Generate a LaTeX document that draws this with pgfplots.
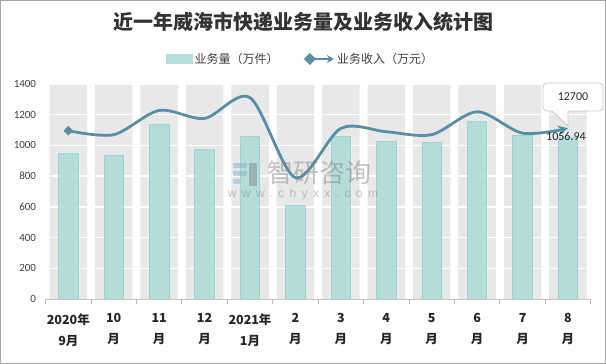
\documentclass[border=0pt]{standalone}
\usepackage{pgfplots}
\pgfplotsset{compat=1.18}
\usepackage{fontspec}
\setmainfont{Noto Sans CJK SC}
\newfontfamily\numfont{Carlito}
\newfontfamily\wmfont[LetterSpace=45]{Liberation Sans}
\usetikzlibrary{arrows.meta}
\definecolor{barfill}{RGB}{176,221,217}
\definecolor{barline}{RGB}{160,213,207}
\definecolor{band}{RGB}{232,232,232}
\definecolor{linecol}{RGB}{88,143,166}
\definecolor{txt}{RGB}{64,64,64}
\definecolor{boxgray}{RGB}{200,200,200}
\definecolor{wmblue}{RGB}{130,170,200}
\begin{document}
\begin{tikzpicture}[x=1pt,y=1pt]
\useasboundingbox (0,0) rectangle (606,364);
\fill[white] (0,0) rectangle (606,364);
\node[font=\fontsize{20}{24}\selectfont\bfseries, text=black!80] at (303.5,342) {近一年威海市快递业务量及业务收入统计图};
\begin{axis}[
  at={(45.6pt,65pt)}, anchor=south west, scale only axis,
  width=545.1pt, height=215pt,
  xmin=-0.5, xmax=11.5, ymin=0, ymax=1400,
  ytick={0,200,...,1400},
  xtick={0,...,11},
  xticklabels={{2020年\\9月},{10\\月},{11\\月},{12\\月},{2021年\\1月},{2\\月},{3\\月},{4\\月},{5\\月},{6\\月},{7\\月},{8\\月}},
  extra x ticks={-0.5,0.5,...,11.5},
  extra x tick labels={},
  extra x tick style={xtick style={draw=gray!55, line width=0.8pt}, major tick length=5pt, tick align=outside},
  xtick style={draw=none}, ytick style={draw=none},
  axis x line*=bottom, axis y line*=left,
  y axis line style={draw=none},
  x axis line style={draw=gray!45, line width=0.8pt},
  /pgf/number format/assume math mode=true,
  /pgf/number format/1000 sep={},
  yticklabel style={font=\numfont\fontsize{11}{13}\selectfont, text=txt, xshift=-6pt},
  xticklabel style={align=center, font=\fontsize{12.5}{21}\selectfont\bfseries, text=black!85, anchor=north, yshift=-11pt},
  legend style={at={(0.4676,1.1163)}, anchor=center, draw=none, fill=none,
    font=\fontsize{12}{14}\selectfont, text=txt,
    /tikz/every even column/.append style={column sep=24pt}},
  legend columns=2,
]
\addplot[ybar, bar width=37.5pt, bar shift=0pt, fill=band, draw=none, forget plot]
  coordinates {(0,1400)(1,1400)(2,1400)(3,1400)(4,1400)(5,1400)(6,1400)(7,1400)(8,1400)(9,1400)(10,1400)(11,1400)};
\addplot[white, line width=1.3pt, forget plot] coordinates {(-0.5,200)(11.5,200)};
\addplot[white, line width=1.3pt, forget plot] coordinates {(-0.5,400)(11.5,400)};
\addplot[white, line width=1.3pt, forget plot] coordinates {(-0.5,600)(11.5,600)};
\addplot[white, line width=1.3pt, forget plot] coordinates {(-0.5,800)(11.5,800)};
\addplot[white, line width=1.3pt, forget plot] coordinates {(-0.5,1000)(11.5,1000)};
\addplot[white, line width=1.3pt, forget plot] coordinates {(-0.5,1200)(11.5,1200)};
\addplot[white, line width=1.3pt, forget plot] coordinates {(-0.5,1400)(11.5,1400)};
\addplot[ybar, bar width=19.5pt, bar shift=0pt, fill=barfill, draw=barline, line width=0.8pt, fill opacity=0.92,
  legend image code/.code={\fill[barfill] (0pt,-4.5pt) rectangle (26pt,4.5pt);}]
  coordinates {(0,948)(1,933)(2,1137)(3,976)(4,1057)(5,607)(6,1057)(7,1024)(8,1018)(9,1154)(10,1063)(11,1050)};
\addlegendentry{业务量（万件）}
\addplot[smooth, linecol, line width=2.8pt, mark=square*, mark indices={1}, mark size=3.2pt,
  mark options={rotate=45, solid, line width=0.3pt},
  arrows=-{Stealth[length=10pt,width=10pt]},
  legend image code/.code={\draw[linecol, line width=2.5pt, -{Stealth[length=7pt,width=8pt]}] (2pt,0pt) -- (28pt,0pt);
     \fill[linecol] (0pt,0pt) -- (4pt,4pt) -- (8pt,0pt) -- (4pt,-4pt) -- cycle;}]
  coordinates {(0,1096)(1,1070)(2,1228)(3,1176)(4,1311)(5,790)(6,1111)(7,1089)(8,1070)(9,1219)(10,1080)(11,1111)};
\addlegendentry{业务收入（万元）}
\node[font=\numfont\fontsize{12}{14}\selectfont, text=black!85] at (axis cs:11,1056.94) [xshift=-2pt] {1056.94};
\end{axis}
% callout
\draw[boxgray, fill=white, line width=0.8pt] (552,253) -- (548,253) [rounded corners=4pt] -- (543,253) -- (543,281) -- (603,281) -- (603,253) -- (590,253) [sharp corners] -- (568,253) -- (568,238) -- cycle;
\node[font=\numfont\fontsize{12}{14}\selectfont, text=black!85] at (573,267) {12700};
% watermark
\begin{scope}[opacity=0.45]
\fill[wmblue] (233,196) rectangle (247,201);
\fill[wmblue] (233,188) rectangle (247,193);
\fill[wmblue] (233,180) rectangle (240,185);
\fill[gray] (249,178) rectangle (257,201);
\node[font=\fontsize{26}{28}\selectfont, text=gray] at (319,191) {智研咨询};
\node[font=\wmfont\fontsize{12}{14}\selectfont, text=gray] at (303,170) {www.chyxx.com};
\end{scope}
\draw[gray!70, line width=1pt] (0.5,0.5) rectangle (605.5,363.5);
\end{tikzpicture}
\end{document}
